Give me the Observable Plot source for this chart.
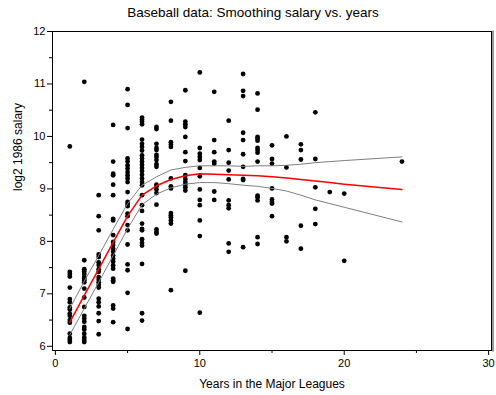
<!DOCTYPE html>
<html>
<head>
<meta charset="utf-8">
<script src="https://cdn.jsdelivr.net/npm/d3@7"></script>
<script src="https://cdn.jsdelivr.net/npm/@observablehq/plot@0.6"></script>
<style>
  body { margin: 0; background: #fff; }
  #title {
    height: 22px;
    line-height: 26px;
    font-family: "Liberation Sans", Arial, sans-serif;
    font-size: 13.5px;
    text-align: center;
    padding-left: 10px;
    color: #000;
  }
</style>
</head>
<body>
<div id="title">Baseball data: Smoothing salary vs. years</div>
<div id="chart"></div>
<script>
// Years in the majors for each group of players
const pointYears = [1, 2, 3, 4, 5, 6, 7, 8, 9, 10, 11, 12, 13, 14, 15, 16, 17, 18, 19, 20, 24];

// log2 of 1986 salary, one list per value of pointYears
const salaryByYear = [
  [9.81, 7.42, 7.38, 7.33, 7.12, 6.90, 6.84, 6.74, 6.70, 6.62, 6.58, 6.50, 6.45, 6.24, 6.16, 6.12, 6.08],
  [11.04, 7.64, 7.47, 7.43, 7.38, 7.32, 7.29, 7.26, 7.22, 7.10, 6.93, 6.75, 6.58, 6.53, 6.47, 6.37, 6.32, 6.24, 6.17, 6.12, 6.08],
  [8.88, 8.48, 8.21, 7.75, 7.70, 7.60, 7.55, 7.47, 7.42, 7.32, 7.27, 7.22, 7.17, 7.12, 6.91, 6.84, 6.76, 6.63, 6.48, 6.23],
  [10.22, 9.52, 9.29, 9.26, 9.08, 8.88, 8.43, 8.40, 8.12, 7.99, 7.93, 7.86, 7.80, 7.73, 7.67, 7.61, 7.54, 7.48, 7.29, 7.26, 7.23, 6.78, 6.72, 6.46],
  [10.90, 10.60, 10.16, 9.58, 9.52, 9.45, 9.39, 9.32, 9.26, 9.20, 9.13, 8.94, 8.75, 8.71, 8.67, 8.53, 8.48, 8.31, 8.21, 7.94, 7.56, 7.45, 7.02, 6.33],
  [10.36, 10.32, 10.28, 10.23, 9.94, 9.86, 9.80, 9.73, 9.64, 9.58, 9.52, 9.46, 9.40, 9.34, 9.27, 9.20, 9.13, 9.07, 8.88, 8.69, 8.58, 8.34, 8.24, 8.21, 8.04, 7.97, 7.92, 7.57, 6.63, 6.49],
  [10.18, 10.14, 9.86, 9.78, 9.74, 9.65, 9.61, 9.55, 9.47, 9.42, 9.08, 9.05, 8.99, 8.92, 8.70, 8.23, 8.18, 8.15],
  [10.66, 10.30, 9.89, 9.84, 9.80, 9.20, 9.05, 9.01, 8.54, 8.50, 8.46, 8.40, 8.34, 7.07],
  [10.88, 10.28, 10.23, 10.18, 9.99, 9.70, 9.53, 9.26, 9.19, 9.13, 9.08, 9.03, 8.97, 7.44],
  [11.22, 9.78, 9.67, 9.61, 9.55, 9.40, 9.24, 8.99, 8.79, 8.69, 8.40, 8.10, 6.64],
  [10.85, 9.93, 9.70, 9.52, 9.48, 8.95, 8.79],
  [10.30, 9.74, 9.50, 9.35, 9.18, 8.78, 8.69, 8.63, 7.96, 7.80],
  [11.19, 10.87, 10.77, 10.07, 9.93, 9.66, 9.42, 9.19, 9.17, 7.89],
  [10.82, 10.51, 9.99, 9.96, 9.92, 9.78, 9.74, 9.69, 9.52, 8.87, 8.84, 8.78, 8.08, 7.95],
  [9.83, 9.57, 9.48, 9.01, 8.80, 8.75, 8.72, 8.48],
  [10.00, 9.41, 8.08, 8.00],
  [9.85, 9.74, 9.56, 8.30, 7.86],
  [10.46, 9.57, 9.03, 8.62, 8.33],
  [8.94],
  [8.91, 7.63],
  [9.52]
];

// Smoothed fit and its confidence limits, evaluated at each observed year
const fitYears = [1, 2, 3, 4, 5, 6, 7, 8, 9, 10, 11, 12, 13, 14, 15, 16, 17, 18, 19, 20, 24];
const fitMean  = [6.46, 6.97, 7.47, 7.98, 8.48, 8.88, 9.06, 9.18, 9.25, 9.29, 9.28, 9.27, 9.26, 9.25, 9.23, 9.21, 9.18, 9.15, 9.12, 9.09, 8.99];
const fitUpper = [6.72, 7.24, 7.73, 8.23, 8.72, 9.07, 9.23, 9.36, 9.41, 9.44, 9.44, 9.44, 9.43, 9.44, 9.44, 9.45, 9.47, 9.50, 9.52, 9.54, 9.61];
const fitLower = [6.22, 6.72, 7.22, 7.73, 8.24, 8.70, 8.90, 9.02, 9.09, 9.12, 9.12, 9.10, 9.07, 9.05, 9.01, 8.96, 8.88, 8.79, 8.72, 8.65, 8.37];

// Axis ticks
const xMajorTicks = [0, 10, 20, 30];
const xMinorTicks = [5, 15, 25];
const yMajorTicks = [6, 7, 8, 9, 10, 11, 12];
const yMinorTicks = [6.5, 7.5, 8.5, 9.5, 10.5, 11.5];

const points = pointYears.flatMap((yr, i) => salaryByYear[i].map(s => ({year: yr, salary: s})));
const fit = fitYears.map((yr, i) => ({year: yr, mean: fitMean[i], upper: fitUpper[i], lower: fitLower[i]}));

const font = '"Liberation Sans", Arial, sans-serif';

const chart = Plot.plot({
  width: 496,
  height: 373,
  marginTop: 9,
  marginBottom: 45,
  marginLeft: 52,
  marginRight: 5,
  x: {domain: [-0.2, 30.2]},
  y: {domain: [5.92, 12]},
  style: {fontFamily: font, fontSize: "11px", color: "black", background: "white", overflow: "visible"},
  marks: [
    Plot.dot(points, {x: "year", y: "salary", r: 2.4, fill: "black", stroke: null}),
    Plot.line(fit, {x: "year", y: "upper", stroke: "#7f7f7f", strokeWidth: 1}),
    Plot.line(fit, {x: "year", y: "lower", stroke: "#7f7f7f", strokeWidth: 1}),
    Plot.line(fit, {x: "year", y: "mean", stroke: "red", strokeWidth: 1.5}),
    // soft shadow along the right edge of the plot frame
    Plot.frame({anchor: "right", stroke: "#9a9a9a", strokeWidth: 2, dx: 1.5}),
    Plot.frame({stroke: "black"}),
    Plot.axisX({ticks: xMajorTicks, tickSize: 5, tickPadding: 4, tickFormat: d => String(d), label: null}),
    Plot.axisX({ticks: xMinorTicks, tickSize: 3, tickFormat: () => "", label: null}),
    Plot.axisY({ticks: yMajorTicks, tickSize: 5, tickPadding: 2, tickFormat: d => String(d), label: null}),
    Plot.axisY({ticks: yMinorTicks, tickSize: 3, tickFormat: () => "", label: null}),
    Plot.text(["log2 1986 salary"], {text: d => d, frameAnchor: "left", dx: -34, rotate: -90, fontSize: 12}),
    Plot.text(["Years in the Major Leagues"], {text: d => d, frameAnchor: "bottom", dy: 37, fontSize: 12})
  ]
});

document.getElementById("chart").appendChild(chart);
</script>
</body>
</html>
